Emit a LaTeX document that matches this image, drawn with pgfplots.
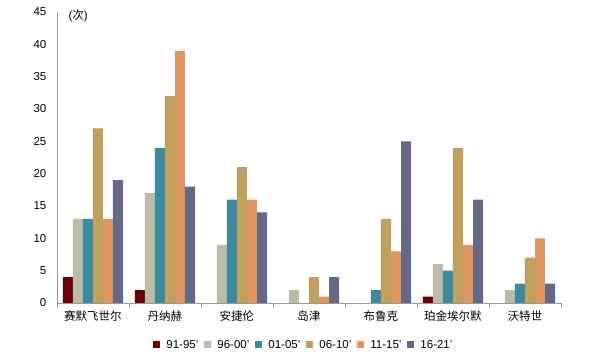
\documentclass[border=0pt]{standalone}
\usepackage{fontspec}
\setmainfont{Liberation Sans}
\newfontfamily\cjk{Noto Sans CJK SC}
\usepackage{pgfplots}
\pgfplotsset{compat=1.18}
\definecolor{cA}{HTML}{6B0000}
\definecolor{cB}{HTML}{BBBBA8}
\definecolor{cC}{HTML}{3C8A9E}
\definecolor{cD}{HTML}{BFA060}
\definecolor{cE}{HTML}{E09660}
\definecolor{cF}{HTML}{646A85}
\begin{document}
\begin{tikzpicture}
\useasboundingbox (-57pt,-52pt) rectangle (552pt,303pt);
\begin{axis}[
  at={(0,0)}, anchor=south west,
  scale only axis, width=504pt, height=291pt,
  ybar=0pt, bar width=10pt,
  xmin=-0.5, xmax=6.5, ymin=0, ymax=45,
  ytick={0,5,...,45},
  xtick={0,...,6},
  xticklabels={{\cjk 赛默飞世尔},{\cjk 丹纳赫},{\cjk 安捷伦},{\cjk 岛津},{\cjk 布鲁克},{\cjk 珀金埃尔默},{\cjk 沃特世}},
  major x tick style={draw=none},
  ytick style={draw=none},
  extra x ticks={-0.5,0.5,...,6.5},
  extra x tick labels={},
  extra x tick style={major tick length=5pt, tick align=outside, major x tick style={draw=gray!80, line width=0.8pt}},
  axis x line=bottom, axis y line=left,
  axis line style={-, draw=gray!80, line width=0.8pt},
  tick label style={font=\fontsize{11.5}{13}\selectfont},
  /pgf/number format/assume math mode=true,
  yticklabel style={xshift=-5pt},
  xticklabel style={yshift=-2pt},
  legend columns=6,
  legend style={at={(0.49,-0.144)}, anchor=center, draw=none, fill=none,
    font=\fontsize{11.5}{13}\selectfont, column sep=4pt, inner sep=0pt},
  legend image code/.code={\fill[#1] (0pt,-3.5pt) rectangle (7pt,3.5pt);},
  clip=false,
]
\addplot[fill=cA, draw=none] coordinates {(0,4) (1,2) (5,1)};
\addplot[fill=cB, draw=none] coordinates {(0,13) (1,17) (2,9) (3,2) (5,6) (6,2)};
\addplot[fill=cC, draw=none] coordinates {(0,13) (1,24) (2,16) (4,2) (5,5) (6,3)};
\addplot[fill=cD, draw=none] coordinates {(0,27) (1,32) (2,21) (3,4) (4,13) (5,24) (6,7)};
\addplot[fill=cE, draw=none] coordinates {(0,13) (1,39) (2,16) (3,1) (4,8) (5,9) (6,10)};
\addplot[fill=cF, draw=none] coordinates {(0,19) (1,18) (2,14) (3,4) (4,25) (5,16) (6,3)};
\legend{91-95',96-00',01-05',06-10',11-15',16-21'}
\node[anchor=west, font=\fontsize{11.5}{13}\selectfont] at ([xshift=8pt,yshift=-4pt]rel axis cs:0,1) {({\cjk 次})};
\end{axis}
\end{tikzpicture}
\end{document}
